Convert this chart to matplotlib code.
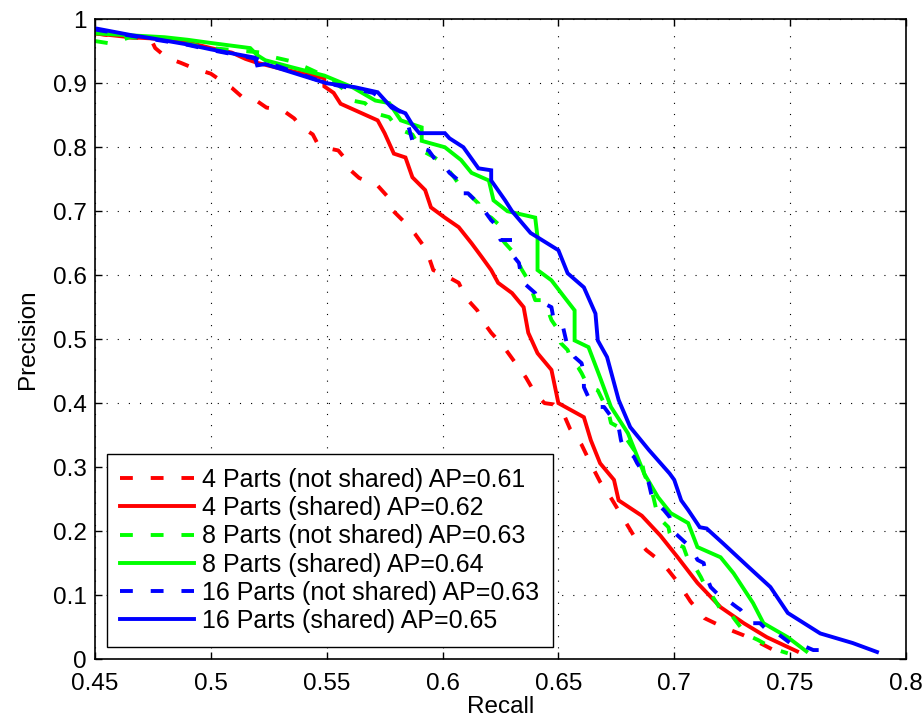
import matplotlib
matplotlib.use("Agg")
import matplotlib.pyplot as plt

plt.rcParams['font.family'] = ['Liberation Sans', 'DejaVu Sans']

# 4 parts, not shared
r4n = [0.45, 0.462, 0.474, 0.476, 0.481, 0.487, 0.493, 0.5, 0.504, 0.509, 0.514, 0.52, 0.524, 0.531, 0.536,
       0.539, 0.544, 0.546, 0.551, 0.555, 0.558, 0.56, 0.564, 0.572, 0.577, 0.578, 0.583, 0.588, 0.593, 0.596,
       0.601, 0.607, 0.61, 0.615, 0.617, 0.621, 0.626, 0.632, 0.636, 0.64, 0.644, 0.648, 0.652, 0.655, 0.66,
       0.664, 0.668, 0.673, 0.678, 0.683, 0.688, 0.695, 0.702, 0.707, 0.713, 0.721, 0.73, 0.737, 0.745]
p4n = [0.978, 0.972, 0.97, 0.955, 0.94, 0.932, 0.923, 0.915, 0.905, 0.893, 0.877, 0.872, 0.862, 0.858, 0.845,
       0.832, 0.82, 0.806, 0.798, 0.795, 0.782, 0.765, 0.752, 0.74, 0.72, 0.703, 0.685, 0.665, 0.64, 0.608,
       0.6, 0.588, 0.565, 0.545, 0.53, 0.51, 0.49, 0.46, 0.44, 0.415, 0.4, 0.398, 0.385, 0.36, 0.335,
       0.305, 0.277, 0.25, 0.22, 0.19, 0.17, 0.15, 0.118, 0.09, 0.064, 0.05, 0.037, 0.025, 0.01]

# 4 parts, shared
r4s = [0.45, 0.465, 0.48, 0.49, 0.5, 0.509, 0.515, 0.52, 0.53, 0.54, 0.549, 0.549, 0.553, 0.556, 0.564,
       0.572, 0.575, 0.579, 0.584, 0.587, 0.5925, 0.595, 0.601, 0.607, 0.6125, 0.617, 0.621, 0.624, 0.63,
       0.635, 0.637, 0.641, 0.647, 0.65, 0.661, 0.664, 0.668, 0.674, 0.676, 0.686, 0.694, 0.7015, 0.71,
       0.72, 0.73, 0.74, 0.753]
p4s = [0.978, 0.972, 0.969, 0.964, 0.955, 0.948, 0.938, 0.932, 0.923, 0.915, 0.908, 0.895, 0.885, 0.868, 0.855,
       0.842, 0.822, 0.79, 0.784, 0.753, 0.733, 0.706, 0.69, 0.675, 0.65, 0.628, 0.608, 0.588, 0.572,
       0.55, 0.51, 0.478, 0.452, 0.4, 0.378, 0.342, 0.306, 0.28, 0.248, 0.224, 0.193, 0.159, 0.119,
       0.081, 0.056, 0.034, 0.012]

# 8 parts, not shared
r8n = [0.45, 0.457, 0.465, 0.48, 0.5, 0.522, 0.528, 0.534, 0.541, 0.55, 0.558, 0.561, 0.5665, 0.571, 0.577,
       0.579, 0.582, 0.587, 0.591, 0.5966, 0.6, 0.6026, 0.605, 0.608, 0.611, 0.6155, 0.6155, 0.621, 0.624,
       0.625, 0.627, 0.631, 0.634, 0.637, 0.64, 0.643, 0.6455, 0.647, 0.65, 0.651, 0.654, 0.6555, 0.6585,
       0.66, 0.663, 0.667, 0.6697, 0.6714, 0.6727, 0.676, 0.6826, 0.6856, 0.687, 0.6886, 0.69, 0.691, 0.693,
       0.6975, 0.698, 0.7, 0.704, 0.706, 0.708, 0.7115, 0.7127, 0.717, 0.721, 0.724, 0.7286, 0.73, 0.736,
       0.7385, 0.7445, 0.749]
p8n = [0.966, 0.962, 0.972, 0.968, 0.955, 0.948, 0.94, 0.935, 0.925, 0.91, 0.889, 0.873, 0.869, 0.853, 0.847,
       0.8375, 0.827, 0.82, 0.795, 0.784, 0.775, 0.764, 0.753, 0.7375, 0.728, 0.712, 0.7, 0.69, 0.68,
       0.659, 0.65, 0.634, 0.61, 0.592, 0.561, 0.561, 0.545, 0.53, 0.514, 0.494, 0.483, 0.467, 0.456,
       0.447, 0.425, 0.42, 0.4, 0.389, 0.369, 0.3625, 0.327, 0.316, 0.29, 0.275, 0.264, 0.253, 0.222,
       0.206, 0.197, 0.181, 0.175, 0.155, 0.15, 0.128, 0.119, 0.095, 0.072, 0.072, 0.05, 0.04, 0.03,
       0.025, 0.014, 0.009]

# 8 parts, shared
r8s = [0.45, 0.465, 0.48, 0.49, 0.5, 0.517, 0.52, 0.5235, 0.535, 0.549, 0.561, 0.571, 0.577, 0.582, 0.591,
       0.591, 0.601, 0.608, 0.6125, 0.62, 0.622, 0.628, 0.64, 0.641, 0.641, 0.647, 0.6525, 0.657, 0.657,
       0.663, 0.668, 0.6727, 0.68, 0.687, 0.693, 0.6985, 0.706, 0.71, 0.72, 0.7256, 0.734, 0.7385, 0.749,
       0.757]
p8s = [0.978, 0.975, 0.972, 0.968, 0.963, 0.955, 0.944, 0.936, 0.925, 0.912, 0.894, 0.873, 0.869, 0.842, 0.831,
       0.81, 0.8, 0.78, 0.76, 0.748, 0.717, 0.7, 0.69, 0.659, 0.608, 0.592, 0.566, 0.545, 0.498,
       0.4875, 0.44, 0.394, 0.353, 0.29, 0.253, 0.228, 0.2125, 0.175, 0.159, 0.134, 0.0875, 0.056, 0.034,
       0.012]

# 16 parts, not shared
r16n = [0.45, 0.466, 0.49, 0.5, 0.52, 0.55, 0.57, 0.578, 0.584, 0.587, 0.59, 0.594, 0.597, 0.6, 0.603,
        0.607, 0.608, 0.611, 0.6155, 0.617, 0.621, 0.624, 0.625, 0.63, 0.631, 0.633, 0.634, 0.635, 0.64,
        0.641, 0.647, 0.648, 0.652, 0.654, 0.657, 0.66, 0.661, 0.661, 0.663, 0.667, 0.6697, 0.674, 0.676,
        0.677, 0.678, 0.6826, 0.684, 0.687, 0.689, 0.69, 0.691, 0.6955, 0.698, 0.7, 0.706, 0.708, 0.71,
        0.7127, 0.714, 0.7157, 0.72, 0.723, 0.727, 0.7286, 0.733, 0.737, 0.7415, 0.7445, 0.75, 0.753,
        0.76, 0.764]
p16n = [0.984, 0.974, 0.96, 0.952, 0.938, 0.9, 0.885, 0.865, 0.85, 0.81, 0.8, 0.795, 0.78, 0.775, 0.76,
        0.748, 0.728, 0.728, 0.712, 0.706, 0.686, 0.675, 0.655, 0.655, 0.628, 0.619, 0.597, 0.588, 0.572,
        0.561, 0.55, 0.53, 0.519, 0.4875, 0.472, 0.4625, 0.447, 0.425, 0.409, 0.394, 0.394, 0.373, 0.3625,
        0.342, 0.331, 0.316, 0.306, 0.29, 0.275, 0.259, 0.248, 0.233, 0.222, 0.198, 0.178, 0.17, 0.155,
        0.15, 0.128, 0.1125, 0.097, 0.092, 0.081, 0.077, 0.056, 0.056, 0.04, 0.04, 0.025, 0.025,
        0.014, 0.014]

# 16 parts, shared
r16s = [0.45, 0.466, 0.475, 0.491, 0.5, 0.519, 0.52, 0.5235, 0.55, 0.562, 0.572, 0.578, 0.584, 0.587, 0.59,
        0.601, 0.603, 0.609, 0.6155, 0.621, 0.621, 0.627, 0.63, 0.638, 0.65, 0.654, 0.661, 0.666, 0.667,
        0.671, 0.676, 0.681, 0.689, 0.698, 0.7, 0.703, 0.706, 0.711, 0.714, 0.721, 0.732, 0.7415, 0.749,
        0.763, 0.777, 0.7875]
p16s = [0.986, 0.975, 0.97, 0.96, 0.953, 0.94, 0.928, 0.93, 0.9, 0.894, 0.886, 0.862, 0.853, 0.835, 0.822,
        0.822, 0.814, 0.8, 0.767, 0.764, 0.748, 0.717, 0.7, 0.666, 0.639, 0.603, 0.581, 0.54, 0.498,
        0.472, 0.405, 0.3625, 0.327, 0.29, 0.28, 0.248, 0.233, 0.206, 0.204, 0.181, 0.144, 0.1125, 0.072,
        0.04, 0.025, 0.011]

labels = ["4 Parts (not shared) AP=0.61", "4 Parts (shared) AP=0.62",
          "8 Parts (not shared) AP=0.63", "8 Parts (shared) AP=0.64",
          "16 Parts (not shared) AP=0.63", "16 Parts (shared) AP=0.65"]

xticks = [0.45, 0.5, 0.55, 0.6, 0.65, 0.7, 0.75, 0.8]
xticklabels = ["0.45", "0.5", "0.55", "0.6", "0.65", "0.7", "0.75", "0.8"]
yticks = [0, 0.1, 0.2, 0.3, 0.4, 0.5, 0.6, 0.7, 0.8, 0.9, 1]
yticklabels = ["0", "0.1", "0.2", "0.3", "0.4", "0.5", "0.6", "0.7", "0.8", "0.9", "1"]

fig = plt.figure(figsize=(9.22, 7.2), dpi=100)
ax = fig.add_axes([0.103, 0.0847, 0.8796, 0.8885])

series = [(r4n, p4n, (1, 0, 0), True), (r4s, p4s, (1, 0, 0), False),
          (r8n, p8n, (0, 1, 0), True), (r8s, p8s, (0, 1, 0), False),
          (r16n, p16n, (0, 0, 1), True), (r16s, p16s, (0, 0, 1), False)]
lw = 2.8
for (r, p, c, dashed), lab in zip(series, labels):
    line, = ax.plot(r, p, color=c, lw=lw, label=lab, solid_joinstyle='miter')
    if dashed:
        line.set_dashes((3.3, 4.6))

ax.set_xlim(0.45, 0.8)
ax.set_ylim(0, 1)
ax.set_xticks(xticks)
ax.set_xticklabels(xticklabels)
ax.set_yticks(yticks)
ax.set_yticklabels(yticklabels)
ax.tick_params(direction='in', length=5, width=1, top=True, right=True, labelsize=17.5)
ax.tick_params(axis='x', pad=10)
ax.tick_params(axis='y', pad=6)
for s in ax.spines.values():
    s.set_linewidth(1.2)
ax.grid(True, color='black', linestyle=(0, (1, 9)), linewidth=0.8)

ax.set_xlabel("Recall", fontsize=17.5, labelpad=1)
ax.set_ylabel("Precision", fontsize=17.5, labelpad=10)

leg = ax.legend(loc='lower left', bbox_to_anchor=(0.0145, 0.019), borderaxespad=0, fontsize=18,
                handlelength=2.95, handletextpad=0.3, labelspacing=0.17, borderpad=0.55,
                fancybox=False, framealpha=1, edgecolor='black')
leg.get_frame().set_linewidth(1.0)

fig.savefig("out.png", dpi=100)
